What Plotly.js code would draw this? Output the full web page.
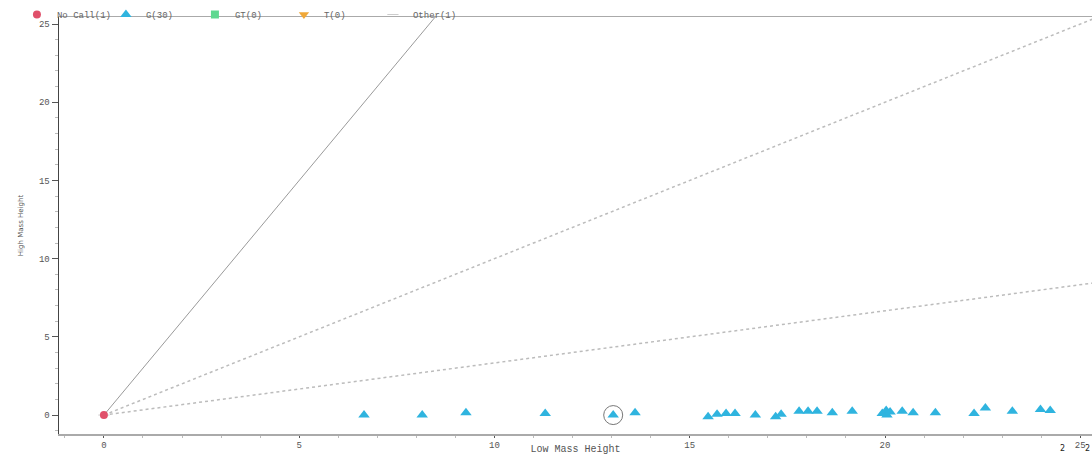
<!DOCTYPE html>
<html>
<head>
<meta charset="utf-8">
<script src="https://cdn.plot.ly/plotly-3.0.1.min.js"></script>
<style>html,body{margin:0;padding:0;background:#fff;}#chart{width:1092px;height:455px;}</style>
</head>
<body>
<div id="chart"></div>
<script>
// Data
const noCallX = [0];
const noCallY = [0];
const gX = [6.66, 8.15, 9.27, 11.30, 13.04, 13.60, 15.47, 15.70, 15.93, 16.16, 16.68, 17.20, 17.34, 17.80, 18.03, 18.26, 18.65, 19.16, 19.93, 20.03, 20.05, 20.13, 20.44, 20.72, 21.29, 22.28, 22.57, 23.26, 23.98, 24.23];
const gY = [0.0, 0.0, 0.15, 0.1, 0.0, 0.15, -0.1, 0.05, 0.1, 0.1, 0.0, -0.1, 0.05, 0.25, 0.25, 0.25, 0.15, 0.25, 0.1, 0.3, 0.0, 0.2, 0.25, 0.15, 0.15, 0.1, 0.45, 0.25, 0.35, 0.3];
const gtX = [], gtY = [];
const tX = [], tY = [];
const otherX = [0];
const otherY = [0];
const selectedX = [13.04];
const selectedY = [0.0];
const ratioSlopes = [3, 1, 1/3];
const refRange = [0, 30];
const legendNames = ["No Call(1)", "G(30)", "GT(0)", "T(0)", "Other(1)"];
const cornerTexts = ["2", "2"];

const orNull = a => a.length ? a : [null];
const traces = [];
ratioSlopes.forEach((s, i) => {
  traces.push({
    x: refRange, y: refRange.map(v => v * s), mode: 'lines', showlegend: false, hoverinfo: 'skip',
    line: i === 0 ? {color: '#9a9a9a', width: 1} : {color: '#bcbcbc', width: 1.5, dash: 'dot'}
  });
});
traces.push({x: otherX, y: otherY, name: legendNames[4], mode: 'markers', legendrank: 5,
  marker: {symbol: 'line-ew-open', size: 8, color: '#cccccc', line: {color: '#cccccc', width: 1}}});
traces.push({x: noCallX, y: noCallY, name: legendNames[0], mode: 'markers', legendrank: 1,
  marker: {symbol: 'circle', size: 8, color: '#e0506a'}});
traces.push({x: gX, y: gY, name: legendNames[1], mode: 'markers', legendrank: 2,
  marker: {symbol: 'triangle-up', size: 10, color: '#2fb4df'}});
traces.push({x: orNull(gtX), y: orNull(gtY), name: legendNames[2], mode: 'markers', legendrank: 3,
  marker: {symbol: 'square', size: 8, color: '#5fd890'}});
traces.push({x: orNull(tX), y: orNull(tY), name: legendNames[3], mode: 'markers', legendrank: 4,
  marker: {symbol: 'triangle-down', size: 9, color: '#f0a838'}});
traces.push({x: selectedX, y: selectedY, mode: 'markers', showlegend: false, hoverinfo: 'skip',
  marker: {symbol: 'circle-open', size: 19, color: '#777', line: {color: '#777', width: 1}}});

const mono = 'Liberation Mono, DejaVu Sans Mono, monospace';
const tickFont = {family: mono, size: 9, color: '#555'};
const layout = {
  width: 1092, height: 455,
  margin: {l: 59, r: 0, t: 17, b: 21, autoexpand: false},
  paper_bgcolor: '#fff', plot_bgcolor: '#fff',
  showlegend: true,
  legend: {orientation: 'h', x: 0.0155, xref: 'container', y: 1, yref: 'container', yanchor: 'top',
    font: {family: mono, size: 9, color: '#666'},
    itemwidth: 30, entrywidth: 44, tracegroupgap: 0, bgcolor: 'rgba(0,0,0,0)'},
  xaxis: {range: [-1.15, 25.3], tickvals: [0, 5, 10, 15, 20, 25], ticks: 'outside', ticklen: 2,
    ticklabelstandoff: 0,
    tickcolor: '#555', showgrid: false, zeroline: false, showline: true, linecolor: '#aaa', linewidth: 1.5,
    mirror: true, tickfont: tickFont,
    minor: {dtick: 1, ticks: 'outside', ticklen: 2, tickcolor: '#bbb', showgrid: false},
    title: {text: 'Low Mass Height', standoff: 10, font: {family: mono, size: 10, color: '#555'}}},
  yaxis: {range: [-1.21, 25.45], tickvals: [0, 5, 10, 15, 20, 25], ticks: 'outside', ticklen: 6,
    tickcolor: '#555', showgrid: false, zeroline: false, showline: true, linecolor: '#444', linewidth: 1.5,
    tickfont: tickFont,
    minor: {dtick: 1, ticks: 'outside', ticklen: 3, tickcolor: '#bbb', showgrid: false},
    title: {text: 'High Mass Height', standoff: 14, font: {family: 'DejaVu Sans, sans-serif', size: 7, color: '#555'}}},
  annotations: [
    {text: cornerTexts[0], xref: 'paper', yref: 'paper', x: 0.9755, y: -0.05, xanchor: 'right', yanchor: 'bottom',
      showarrow: false, font: {family: 'DejaVu Sans', size: 8, color: '#222'}},
    {text: cornerTexts[1], xref: 'paper', yref: 'paper', x: 1.0, y: -0.05, xanchor: 'right', yanchor: 'bottom',
      showarrow: false, font: {family: 'DejaVu Sans', size: 8, color: '#222'}}
  ]
};
Plotly.newPlot('chart', traces, layout, {displayModeBar: false, staticPlot: true});
</script>
</body>
</html>
